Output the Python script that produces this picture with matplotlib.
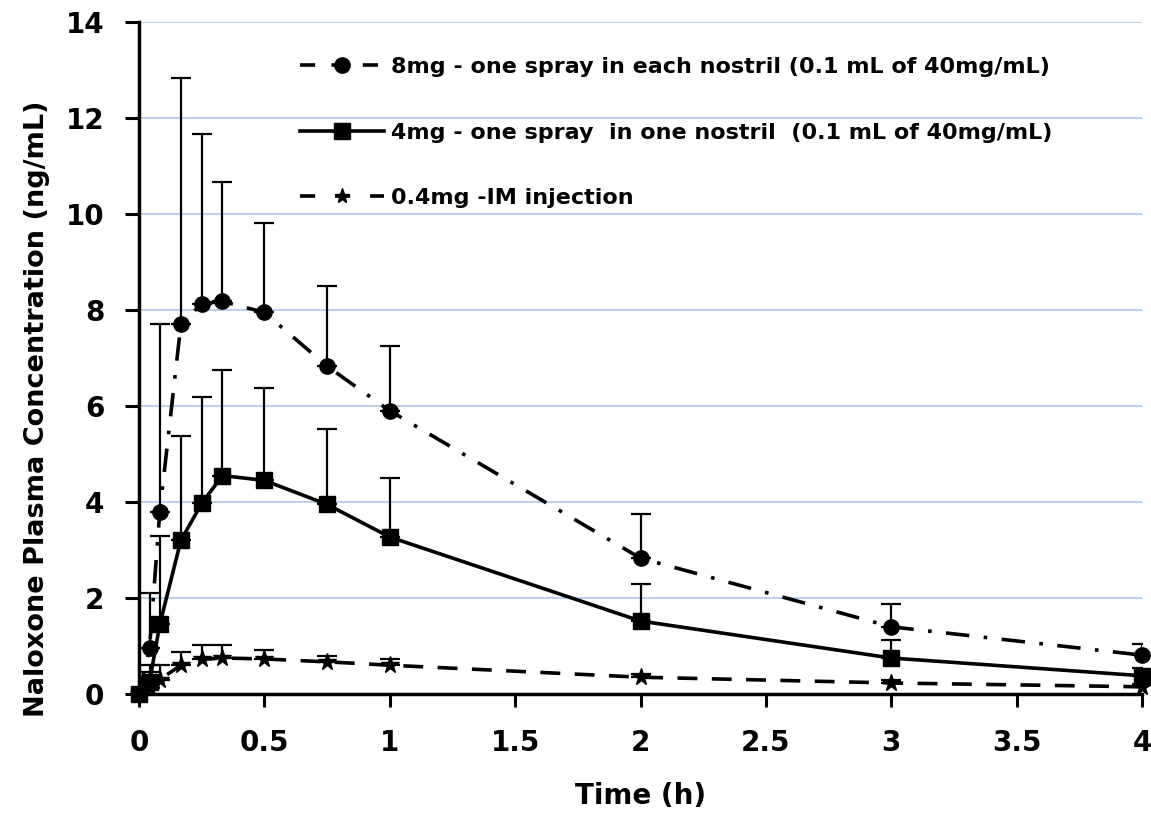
import matplotlib
matplotlib.use("Agg")
import matplotlib.pyplot as plt
import numpy as np
from matplotlib.lines import Line2D

# ---- data ----
time_h = [0, 0.042, 0.083, 0.167, 0.25, 0.333, 0.5, 0.75, 1, 2, 3, 4]

mg8_mean = [0, 0.95, 3.8, 7.7, 8.13, 8.18, 7.95, 6.83, 5.9, 2.83, 1.4, 0.81]
mg8_upper = [0, 2.1, 7.7, 12.84, 11.66, 10.66, 9.82, 8.5, 7.25, 3.75, 1.88, 1.05]

mg4_mean = [0, 0.25, 1.45, 3.2, 3.97, 4.55, 4.45, 3.95, 3.27, 1.52, 0.75, 0.38]
mg4_upper = [0, 0.6, 3.3, 5.38, 6.18, 6.76, 6.37, 5.53, 4.5, 2.3, 1.12, 0.55]

im_mean = [0, 0.12, 0.3, 0.6, 0.72, 0.75, 0.73, 0.67, 0.6, 0.35, 0.23, 0.15]
im_upper = [0, 0.45, 0.6, 0.88, 1.03, 1.03, 0.92, 0.8, 0.72, 0.42, 0.3, 0.2]

labels = ["8mg - one spray in each nostril (0.1 mL of 40mg/mL)",
          "4mg - one spray  in one nostril  (0.1 mL of 40mg/mL)",
          "0.4mg -IM injection"]

x_ticks = [0, 0.5, 1, 1.5, 2, 2.5, 3, 3.5, 4]
x_ticklabels = ["0", "0.5", "1", "1.5", "2", "2.5", "3", "3.5", "4"]
y_ticks = [0, 2, 4, 6, 8, 10, 12, 14]

plt.rcParams['font.family'] = ['DejaVu Sans']
plt.rcParams['font.weight'] = 'bold'

W, H = 1151, 816
fig = plt.figure(figsize=(W / 100, H / 100), dpi=100)
ax = fig.add_axes([139 / W, 1 - 694 / H, (1142 - 139) / W, (694 - 22) / H])

t = np.array(time_h)

def draw(mean, upper, ls, marker, ms):
    mean = np.array(mean)
    up = np.array(upper) - mean
    ax.errorbar(t, mean, yerr=[np.zeros_like(up), up], fmt='none',
                ecolor='black', elinewidth=1.6, capsize=7, capthick=1.6, zorder=3)
    ax.plot(t, mean, color='black', linestyle=ls, linewidth=2.6,
            marker=marker, markersize=ms, markerfacecolor='black',
            markeredgecolor='black', zorder=4, clip_on=False)

draw(mg8_mean, mg8_upper, (0, (6.5, 4, 1, 4)), 'o', 11)
draw(mg4_mean, mg4_upper, '-', 's', 12)
draw(im_mean, im_upper, (0, (5.5, 4)), '*', 13)

ax.set_xlim(0, 4)
ax.set_ylim(0, 14)
ax.set_xticks(x_ticks)
ax.set_xticklabels(x_ticklabels)
ax.set_yticks(y_ticks)
ax.yaxis.grid(True, color='#adc8ea', linewidth=1.2)
ax.set_axisbelow(True)
for s in ['top', 'right']:
    ax.spines[s].set_visible(False)
for s in ['left', 'bottom']:
    ax.spines[s].set_linewidth(2.5)
ax.tick_params(axis='both', direction='out', width=2.2,
               labelsize=20, colors='black')
ax.tick_params(axis='y', length=10, pad=15)
ax.tick_params(axis='x', length=9, pad=16)
for lab in ax.get_xticklabels() + ax.get_yticklabels():
    lab.set_fontweight('bold')

ax.set_xlabel("Time (h)", fontsize=20, fontweight='bold')
ax.set_ylabel("Naloxone Plasma Concentration (ng/mL)", fontsize=19.5,
              fontweight='bold')
ax.xaxis.set_label_coords(0.5, (694 - 782) / 672)
ax.yaxis.set_label_coords((50 - 139) / 1003, (694 - 409) / 672)

handles = [
    Line2D([], [], color='black', linestyle=(0, (4.2, 4.5)), linewidth=2.6,
           marker='o', markersize=11),
    Line2D([], [], color='black', linestyle='-', linewidth=2.6,
           marker='s', markersize=12),
    Line2D([], [], color='black', linestyle=(0, (4.2, 5.5)), linewidth=2.6,
           marker='*', markersize=11),
]
leg = fig.legend(handles, labels, loc='upper left',
                 bbox_to_anchor=(300 / W, 1 - 57 / H), bbox_transform=fig.transFigure,
                 frameon=False, fontsize=16, handlelength=3.8, handletextpad=0.3,
                 labelspacing=2.05, borderpad=0, borderaxespad=0)
for txt in leg.get_texts():
    txt.set_fontweight('bold')

fig.savefig("out.png", dpi=100)
